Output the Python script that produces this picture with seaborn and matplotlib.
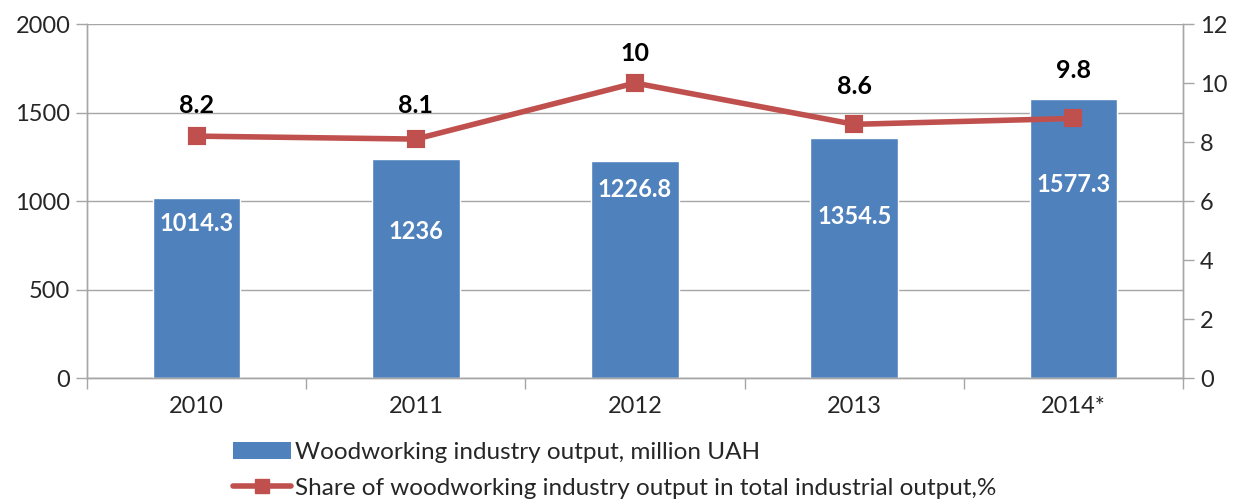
import numpy as np
import pandas as pd
import seaborn as sns
import matplotlib.pyplot as plt
from matplotlib.lines import Line2D
from matplotlib.patches import Patch

years = ["2010", "2011", "2012", "2013", "2014*"]
output = [1014.3, 1236, 1226.8, 1354.5, 1577.3]
share = [8.2, 8.1, 10, 8.6, 8.8]
share_labels = ["8.2", "8.1", "10", "8.6", "9.8"]
output_labels = ["1014.3", "1236", "1226.8", "1354.5", "1577.3"]

BLUE = "#4F81BD"
RED = "#C0504D"
GRID = "#A6A6A6"

sns.set_theme(style="white")
plt.rcParams["font.family"] = ["Lato", "DejaVu Sans"]

df = pd.DataFrame({"year": years, "output": output, "share": share})

fig = plt.figure(figsize=(12.48, 5.01), dpi=100)
ax = fig.add_axes([0.0697, 0.2455, 0.8783, 0.7065])

sns.barplot(data=df, x="year", y="output", color=BLUE, width=0.4,
            saturation=1, edgecolor="white", linewidth=1, ax=ax, zorder=2)
ax.set_ylim(0, 2000)
ax.set_yticks(range(0, 2001, 500))
ax.yaxis.grid(True, color=GRID, lw=1)
ax.set_axisbelow(True)
ax.set_xlabel("")
ax.set_ylabel("")

# bar value labels (offset down from bar top, px)
bar_off = [25, 72, 29, 78, 86]
for i, (v, lab) in enumerate(zip(output, output_labels)):
    ax.annotate(lab, (i, v), xytext=(0, -bar_off[i]), textcoords="offset pixels",
                ha="center", va="center", color="white", fontsize=17,
                fontweight="bold", zorder=5)

ax2 = ax.twinx()
sns.pointplot(data=df, x="year", y="share", color=RED, markers="s",
              linewidth=4, markersize=10, ax=ax2, zorder=4)
ax2.set_ylim(0, 12)
ax2.set_yticks(range(0, 13, 2))
ax2.set_ylabel("")
ax2.set_xlabel("")

lab_off = [31, 34, 30, 38, 48]
for i, (v, lab) in enumerate(zip(share, share_labels)):
    ax2.annotate(lab, (i, v), xytext=(0, lab_off[i]), textcoords="offset pixels",
                 ha="center", va="center", color="black", fontsize=18,
                 fontweight="bold")

# x axis: ticks at category boundaries, labels at centres
ax.set_xlim(-0.5, 4.5)
ax.set_xticks(np.arange(-0.5, 5, 1))
ax.set_xticklabels([])
ax.set_xticks(range(5), minor=True)
ax.set_xticklabels(years, minor=True)
ax.tick_params(axis="x", which="major", length=8, width=1, color=GRID, direction="out")
ax.tick_params(axis="x", which="minor", length=0, pad=13, labelsize=17)
ax.tick_params(axis="y", length=8, width=1, color=GRID, direction="out", labelsize=17, pad=4)
ax2.tick_params(axis="y", length=8, width=1, color=GRID, direction="out", labelsize=17, pad=4)
ax.tick_params(bottom=True, left=True)
ax2.tick_params(right=True)

for a in (ax, ax2):
    a.spines["top"].set_visible(False)
    for s in ("left", "right", "bottom"):
        a.spines[s].set_color(GRID)
        a.spines[s].set_linewidth(1)

handles = [Patch(facecolor=BLUE, edgecolor="none"),
           Line2D([], [], color=RED, lw=4, marker="s", markersize=10)]
labels = ["Woodworking industry output, million UAH",
          "Share of woodworking industry output in total industrial output,%"]
fig.legend(handles, labels, loc="upper left", bbox_to_anchor=(0.179, 0.137),
           frameon=False, fontsize=17.5, handlelength=2.4, handletextpad=0.15,
           labelspacing=0.6, borderaxespad=0)

fig.savefig("out.png", dpi=100)
